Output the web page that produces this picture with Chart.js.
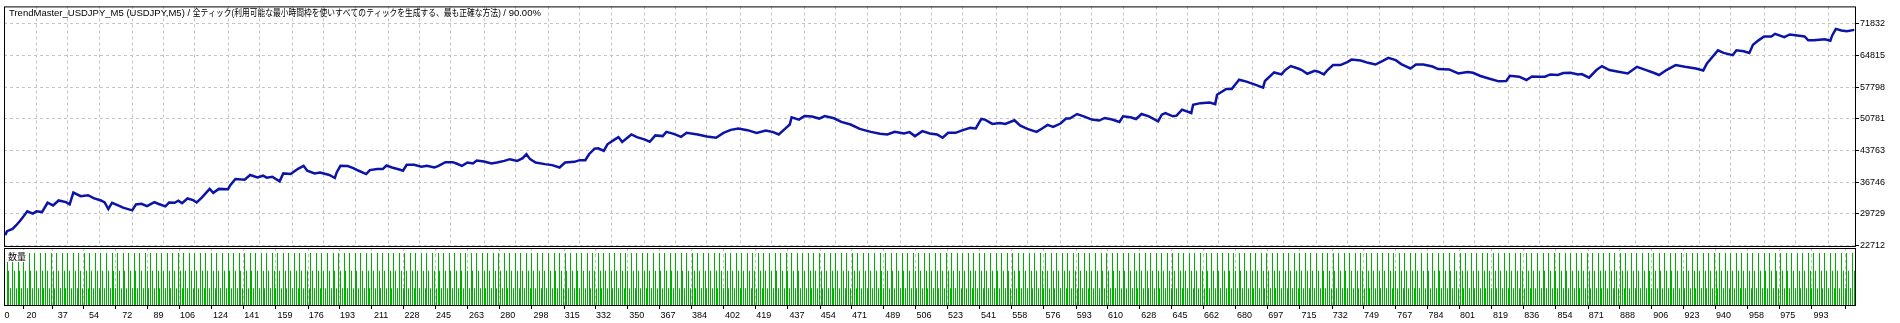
<!DOCTYPE html>
<html lang="ja">
<head>
<meta charset="utf-8">
<title>TrendMaster_USDJPY_M5</title>
<script src="https://cdn.jsdelivr.net/npm/chart.js@4.4.1/dist/chart.umd.min.js"></script>
<style>
  html, body { margin: 0; padding: 0; background: #fff; }
  #wrap { position: relative; width: 1900px; height: 323px; overflow: hidden; background: #fff; }
  #wrap canvas { position: absolute; left: 0; }
  #balanceChart { top: 0; }
  #volumeChart { top: 244px; }
</style>
</head>
<body>
<div id="wrap">
  <canvas id="balanceChart" width="1900" height="256"></canvas>
  <canvas id="volumeChart" width="1900" height="79"></canvas>
</div>
<script>
// trade number / balance
const tradeNo = [
  3, 4, 7, 9, 11, 13, 15, 18, 20, 23,
  26, 29, 32, 36, 38, 40, 44, 48, 51, 55,
  57, 59, 61, 64, 67, 72, 74, 77, 80, 84,
  86, 90, 92, 95, 97, 99, 102, 105, 107, 110,
  114, 116, 119, 124, 125, 128, 133, 136, 140, 143,
  145, 148, 152, 154, 158, 162, 165, 167, 171, 174,
  179, 182, 183, 185, 189, 192, 195, 199, 201, 205,
  208, 210, 213, 217, 219, 221, 225, 229, 232, 236,
  238, 242, 246, 248, 251, 254, 257, 259, 263, 267,
  270, 274, 277, 281, 284, 286, 288, 291, 296, 300,
  304, 307, 312, 315, 318, 320, 323, 325, 328, 330,
  334, 336, 338, 343, 346, 350, 353, 356, 360, 362,
  366, 370, 373, 379, 384, 389, 393, 397, 401, 406,
  411, 416, 420, 423, 427, 429, 430, 434, 437, 441,
  445, 448, 453, 457, 462, 467, 473, 478, 482, 486,
  491, 494, 497, 501, 505, 509, 512, 515, 519, 523,
  527, 530, 533, 535, 539, 543, 546, 551, 554, 558,
  563, 566, 569, 572, 576, 579, 581, 585, 589, 593,
  597, 600, 604, 608, 610, 614, 617, 620, 624, 629,
  631, 633, 637, 639, 642, 647, 648, 652, 657, 660,
  661, 666, 669, 671, 673, 677, 682, 686, 687, 692,
  696, 698, 701, 705, 707, 710, 714, 716, 719, 721,
  724, 728, 732, 734, 739, 743, 747, 751, 754, 758,
  761, 763, 766, 769, 773, 778, 781, 787, 792, 797,
  800, 804, 809, 814, 818, 820, 825, 829, 832, 836,
  839, 842, 846, 849, 853, 857, 859, 863, 867, 870,
  874, 879, 884, 889, 894, 898, 901, 905, 910, 915,
  921, 925, 927, 933, 936, 941, 943, 947, 950, 952,
  955, 958, 962, 964, 969, 972, 976, 980, 982, 985,
  988, 991, 994, 995, 997, 1000, 1003, 1007
];
const balance = [
  25014, 25892, 26396, 27207, 28150, 29181, 30277, 29773, 30277, 30124,
  32185, 31593, 32689, 32317, 31812, 34444, 33632, 33852, 33194, 32689,
  32251, 30782, 32185, 31659, 31089, 30496, 31812, 31966, 31439, 32317,
  31966, 31374, 32251, 32185, 32624, 32097, 33128, 32755, 32251, 33413,
  35255, 34378, 35255, 35167, 35978, 37448, 37294, 38325, 37799, 38171,
  37733, 37952, 36921, 38676, 38544, 39706, 40364, 39268, 38676, 38895,
  38325, 37667, 38895, 40364, 40298, 39860, 39268, 38544, 39421, 39640,
  39640, 40430, 39991, 39553, 39268, 40583, 40583, 40145, 40364, 39991,
  40298, 41175, 41175, 40868, 40364, 41088, 40868, 41526, 41307, 40868,
  41088, 41460, 41833, 41460, 42052, 42930, 41833, 41088, 40737, 40518,
  39991, 41088, 41241, 41614, 41614, 42930, 44158, 44245, 43653, 45122,
  46219, 46723, 45627, 47315, 46723, 46219, 45693, 47096, 46942, 47885,
  47447, 46789, 47666, 47315, 46877, 46570, 47666, 48324, 48631, 48258,
  47666, 48192, 47820, 47315, 48762, 49508, 51109, 50604, 51394, 51262,
  50824, 51394, 50889, 50078, 49508, 48543, 47885, 47447, 47315, 47885,
  47534, 47820, 46942, 48039, 47534, 47315, 46570, 47666, 47666, 48258,
  48762, 48631, 50736, 50604, 49640, 49859, 49640, 50451, 49289, 48543,
  47885, 48631, 49420, 48982, 49727, 50824, 50824, 51832, 51262, 50604,
  50385, 50955, 50604, 50078, 51328, 51109, 50736, 51832, 51328, 50232,
  51701, 52052, 51328, 51482, 52797, 52052, 53894, 54245, 54398, 54025,
  56086, 57402, 57402, 58411, 59441, 59003, 58279, 57687, 59156, 61042,
  60604, 61568, 62446, 61919, 61568, 60757, 61415, 61196, 60604, 61568,
  62665, 62665, 63388, 63893, 63673, 63169, 62796, 63608, 64266, 63761,
  62884, 62511, 61919, 62796, 62796, 62358, 61788, 61700, 60823, 61130,
  60976, 60253, 59661, 59069, 59156, 60319, 60099, 59376, 60165, 60099,
  60099, 60604, 60472, 60911, 60976, 60604, 60691, 59880, 61568, 62446,
  61568, 61196, 60823, 62292, 61568, 60976, 60472, 61568, 62665, 62292,
  61919, 61481, 63016, 65954, 65362, 64858, 65954, 65735, 65362, 67182,
  68147, 69024, 69024, 69594, 68870, 69463, 69243, 69024, 68147, 68147,
  68278, 68366, 68059, 69243, 70691, 70340, 70186, 70471
];

const yTickLabels = [22712, 29729, 36746, 43763, 50781, 57798, 64815, 71832];
const xTickLabels = [
  0, 20, 37, 54, 72, 89, 106, 124, 141, 159, 176, 193, 211, 228, 245, 263, 280, 298, 315, 332,
  350, 367, 384, 402, 419, 437, 454, 471, 489, 506, 523, 541, 558, 576, 593, 610, 628, 645, 662, 680,
  697, 715, 732, 749, 767, 784, 801, 819, 836, 854, 871, 888, 906, 923, 940, 958, 975, 993
];

// volume panel: lot sizes repeat tall / mid / short for every trade
const volumeCycle = [3, 2, 1];
const firstVolTrade = 4;
const lastTrade = 1007;

const titleParts = [
  'TrendMaster_USDJPY_M5 (USDJPY,M5) / ',
  '全ティック(利用可能な最小時間枠を使いすべてのティックを生成する、最も正確な方法)',
  ' / 90.00%'
];
const volumeLabel = '数量';

const FAMILY = '"Liberation Sans", Arial, "Noto Sans CJK JP", sans-serif';
const FONT = { family: FAMILY, size: 9 };
const GRID = '#c4c4c4';
const DASH = [3, 3];
const X_MIN = 2.35, X_MAX = 1007.93;
const Y_MIN = 22383, Y_MAX = 75668;

const volTrades = [];
const volLots = [];
for (let t = firstVolTrade; t <= lastTrade; t++) {
    volTrades.push(t);
    volLots.push(volumeCycle[(t - firstVolTrade) % volumeCycle.length]);
}

const hideFirst = color => ctx => ctx.index === 0 ? 'rgba(0,0,0,0)' : color;
function setXTicks(scale) {
    scale.ticks = xTickLabels.map(v => ({ value: Math.max(v, X_MIN + 3) }));
}

const framePlugin = {
    id: 'frame',
    afterDraw(chart) {
        const { ctx, chartArea: a } = chart;
        ctx.save();
        ctx.strokeStyle = '#000';
        ctx.lineWidth = 1;
        ctx.setLineDash([]);
        ctx.strokeRect(a.left + 0.5, a.top + 0.5, a.right - a.left - 1, a.bottom - a.top - 1);
        ctx.restore();
    }
};

const titlePlugin = {
    id: 'mtTitle',
    afterDraw(chart) {
        const ctx = chart.ctx;
        ctx.save();
        ctx.font = '9.5px ' + FAMILY;
        ctx.fillStyle = '#000';
        ctx.textBaseline = 'alphabetic';
        let x = 9;
        const y = 16;
        ctx.fillText(titleParts[0], x, y);
        x += ctx.measureText(titleParts[0]).width;
        const w = Math.min(ctx.measureText(titleParts[1]).width, 308);
        ctx.fillText(titleParts[1], x, y, w);
        x += w;
        ctx.fillText(titleParts[2], x, y);
        ctx.restore();
    }
};

// snap the 1px volume bars onto whole pixel columns so they stay crisp
const crispBars = {
    id: 'crispBars',
    afterDatasetsUpdate(chart) {
        chart.getDatasetMeta(0).data.forEach(el => { el.x = Math.floor(el.x) + 0.5; });
    }
};

const volLabelPlugin = {
    id: 'volLabel',
    afterDatasetsDraw(chart) {
        const ctx = chart.ctx;
        ctx.save();
        ctx.fillStyle = '#fff';
        ctx.fillRect(7, 6, 21, 12);
        ctx.font = '9px "Noto Sans CJK JP", sans-serif';
        ctx.fillStyle = '#000';
        ctx.textBaseline = 'alphabetic';
        ctx.fillText(volumeLabel, 8, 16);
        ctx.restore();
    }
};

new Chart(document.getElementById('balanceChart'), {
    type: 'line',
    data: {
        datasets: [{
            label: 'Balance',
            data: tradeNo.map((t, i) => ({ x: t, y: balance[i] })),
            borderColor: '#0c14a8',
            borderWidth: 2.5,
            pointRadius: 0,
            tension: 0,
            fill: false
        }]
    },
    options: {
        responsive: false,
        animation: false,
        layout: { padding: { left: 4, top: 4, right: 0, bottom: 9 } },
        plugins: { legend: { display: false }, tooltip: { enabled: false } },
        scales: {
            x: {
                type: 'linear', min: X_MIN, max: X_MAX,
                afterBuildTicks: setXTicks,
                afterFit: s => { s.height = 0; },
                ticks: { display: false, autoSkip: false },
                grid: { color: hideFirst(GRID), drawTicks: false },
                border: { display: false, dash: DASH }
            },
            y: {
                position: 'right', min: Y_MIN, max: Y_MAX,
                afterBuildTicks: s => { s.ticks = yTickLabels.map(v => ({ value: v })); },
                afterFit: s => { s.width = 44; },
                ticks: { font: FONT, color: '#000', padding: 1, autoSkip: false,
                         callback: (v, i) => String(yTickLabels[i]) },
                grid: { color: GRID, tickLength: 3, tickColor: '#000', tickBorderDash: [] },
                border: { display: false, dash: DASH }
            }
        }
    },
    plugins: [framePlugin, titlePlugin]
});

new Chart(document.getElementById('volumeChart'), {
    type: 'bar',
    data: {
        datasets: [{
            label: 'Lots',
            data: volTrades.map((t, i) => ({ x: t, y: volLots[i] })),
            backgroundColor: '#00b000',
            borderWidth: 0,
            inflateAmount: 0,
            barThickness: 1
        }]
    },
    options: {
        responsive: false,
        animation: false,
        layout: { padding: { left: 4, top: 4, right: 44, bottom: 0 } },
        plugins: { legend: { display: false }, tooltip: { enabled: false } },
        scales: {
            x: {
                type: 'linear', min: X_MIN, max: X_MAX, offset: false,
                afterBuildTicks: setXTicks,
                afterFit: s => { s.height = 17; },
                ticks: { font: FONT, color: '#000', padding: 1, align: 'end', autoSkip: false, maxRotation: 0,
                         callback: (v, i) => String(xTickLabels[i]) },
                grid: { color: hideFirst(GRID), tickLength: 3,
                        tickColor: hideFirst('#000'), tickBorderDash: [] },
                border: { display: false, dash: DASH }
            },
            y: { display: false, min: 0, max: 3.28 }
        }
    },
    plugins: [crispBars, framePlugin, volLabelPlugin]
});
</script>
</body>
</html>
